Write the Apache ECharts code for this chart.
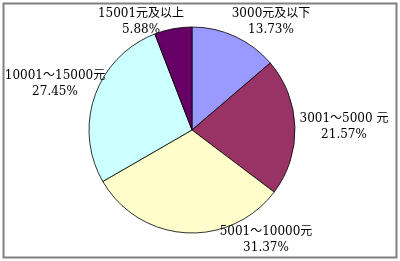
<!DOCTYPE html>
<html><head><meta charset="utf-8">
<script src="https://cdn.jsdelivr.net/npm/echarts@6/dist/echarts.min.js"></script>
<style>
html,body{margin:0;padding:0;background:#fff;}
#c{position:absolute;left:0;top:0;width:400px;height:261px;}
</style></head>
<body><div id="c"></div>
<script>
const categories = ['3000元及以下', '3001～5000 元', '5001～10000元', '10001～15000元', '15001元及以上'];
const values = [13.73, 21.57, 31.37, 27.45, 5.88];
const percentLabels = ['13.73%', '21.57%', '31.37%', '27.45%', '5.88%'];
const colors = ['#9999FF', '#993366', '#FFFFCC', '#CCFFFF', '#660066'];
const labelPos = [[271, 22], [344, 127], [266, 240], [55, 84], [141, 22]];

const chart = echarts.init(document.getElementById('c'));
chart.setOption({
  animation: false,
  backgroundColor: '#fff',
  graphic: [{
    type: 'rect', shape: {x: 3.5, y: 3.5, width: 393, height: 254},
    style: {fill: 'none', stroke: '#808080', lineWidth: 2}
  }],
  series: [{
    type: 'pie',
    center: [192, 130],
    radius: 103,
    startAngle: 90,
    clockwise: true,
    avoidLabelOverlap: false,
    data: categories.map((n, i) => ({name: n, value: values[i], itemStyle: {color: colors[i]}})),
    itemStyle: {borderColor: '#000', borderWidth: 0.8},
    label: {
      show: true,
      position: 'outside',
      formatter: p => p.name + '\n' + percentLabels[p.dataIndex],
      fontFamily: '"DejaVu Serif", "Noto Sans CJK SC", serif',
      fontSize: 12,
      lineHeight: 16,
      color: '#000',
      align: 'center',
      overflow: 'none',
      width: 120
    },
    labelLine: {show: false},
    labelLayout: p => ({x: labelPos[p.dataIndex][0], y: labelPos[p.dataIndex][1], align: 'center', verticalAlign: 'middle', width: 120}),
    emphasis: {disabled: true}
  }]
});
</script></body></html>
